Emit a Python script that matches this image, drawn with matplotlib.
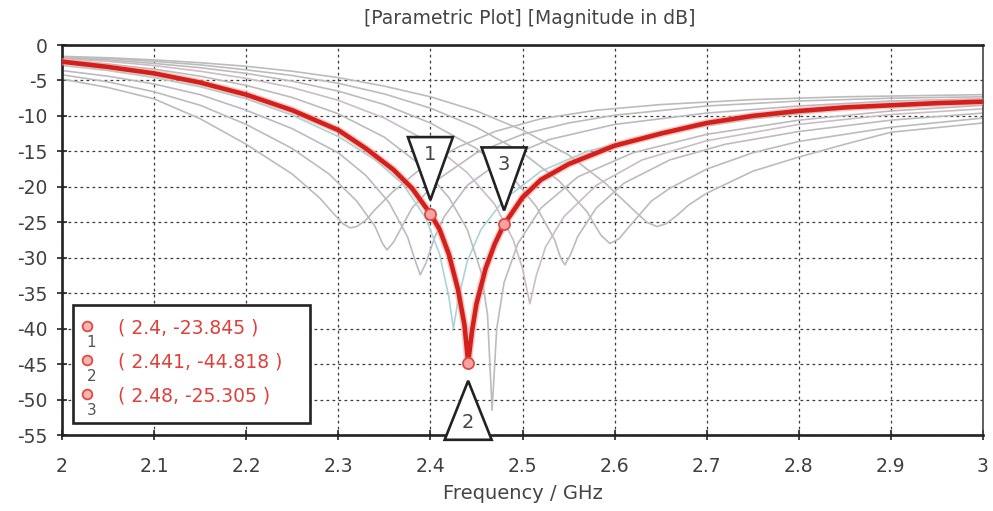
"""Parametric S11 sweep (CST style) with three markers."""

import matplotlib
matplotlib.use("Agg")
import matplotlib.pyplot as plt
from matplotlib.patches import Polygon, Rectangle
from matplotlib.transforms import ScaledTranslation

# ---- data ------------------------------------------------------------------
red_f = [2.00, 2.05, 2.10, 2.15, 2.20, 2.25, 2.30, 2.33, 2.36, 2.38, 2.40, 2.41,
         2.42, 2.43, 2.437, 2.441, 2.445, 2.45, 2.46, 2.47, 2.48, 2.50, 2.52,
         2.55, 2.60, 2.65, 2.70, 2.75, 2.80, 2.85, 2.90, 2.95, 3.00]
red_db = [-2.35, -3.1, -4.0, -5.3, -7.0, -9.2, -12.0, -14.6, -17.6, -20.2, -23.8,
          -26.0, -29.5, -34.5, -39.5, -44.8, -40.5, -36.5, -31.5, -28.0, -25.3,
          -21.5, -19.0, -16.8, -14.2, -12.5, -11.0, -10.0, -9.3, -8.8, -8.5, -8.2, -8.0]

g1_f = [2.00, 2.05, 2.10, 2.15, 2.20, 2.25, 2.28, 2.295, 2.305, 2.313, 2.32, 2.33,
        2.34, 2.36, 2.39, 2.43, 2.47, 2.52, 2.58, 2.65, 2.75, 2.85, 3.00]
g1_db = [-4.8, -6.0, -7.6, -10.4, -14.0, -18.2, -21.6, -23.8, -25.2, -25.8, -25.6,
         -24.7, -23.2, -20.6, -17.4, -14.4, -12.2, -10.4, -9.2, -8.4, -7.7, -7.3, -7.0]

g2_f = [2.00, 2.05, 2.10, 2.15, 2.20, 2.25, 2.29, 2.32, 2.34, 2.348, 2.353, 2.36,
        2.37, 2.38, 2.41, 2.45, 2.50, 2.55, 2.60, 2.70, 2.80, 2.90, 3.00]
g2_db = [-4.2, -5.2, -6.6, -8.5, -11.2, -14.6, -18.2, -22.0, -25.6, -28.0, -28.9,
         -27.8, -25.4, -23.0, -18.8, -15.2, -12.6, -11.0, -9.9, -8.6, -7.9, -7.5, -7.3]

g3_f = [2.00, 2.05, 2.10, 2.15, 2.20, 2.25, 2.30, 2.33, 2.355, 2.375, 2.384, 2.389,
        2.395, 2.405, 2.415, 2.44, 2.48, 2.53, 2.60, 2.70, 2.80, 2.90, 3.00]
g3_db = [-3.6, -4.4, -5.5, -7.0, -9.2, -11.8, -15.2, -18.4, -22.2, -27.0, -30.6,
         -32.4, -30.8, -27.0, -24.2, -19.8, -16.0, -13.3, -11.2, -9.6, -8.6, -7.9, -7.6]

g4_f = [2.00, 2.05, 2.10, 2.15, 2.20, 2.25, 2.30, 2.34, 2.37, 2.395, 2.41, 2.42,
        2.425, 2.43, 2.44, 2.455, 2.48, 2.52, 2.57, 2.65, 2.75, 2.85, 3.00]
g4_db = [-2.9, -3.6, -4.6, -5.9, -7.6, -9.9, -12.9, -16.2, -19.6, -24.4, -29.5,
         -35.5, -40.0, -36.0, -30.5, -26.0, -21.8, -17.8, -15.0, -12.4, -10.4, -9.0, -7.9]

g5_f = [2.00, 2.05, 2.10, 2.15, 2.20, 2.25, 2.30, 2.35, 2.39, 2.42, 2.44, 2.455,
        2.462, 2.467, 2.472, 2.48, 2.495, 2.52, 2.56, 2.62, 2.70, 2.80, 2.90, 3.00]
g5_db = [-2.1, -2.7, -3.4, -4.4, -5.7, -7.4, -9.7, -13.0, -17.0, -21.5, -26.0,
         -32.0, -38.0, -51.5, -40.0, -33.5, -28.0, -23.0, -18.6, -15.2, -12.6,
         -10.6, -9.3, -8.5]

g6_f = [2.00, 2.05, 2.10, 2.15, 2.20, 2.25, 2.30, 2.35, 2.40, 2.44, 2.47, 2.49,
        2.50, 2.508, 2.515, 2.525, 2.545, 2.58, 2.63, 2.70, 2.80, 2.90, 3.00]
g6_db = [-1.9, -2.3, -2.9, -3.7, -4.7, -6.0, -7.8, -10.3, -13.8, -18.0, -22.5,
         -27.5, -31.5, -36.5, -32.5, -28.5, -24.2, -19.8, -16.2, -13.5, -11.2, -9.8, -9.0]

g7_f = [2.00, 2.05, 2.10, 2.15, 2.20, 2.25, 2.30, 2.35, 2.40, 2.45, 2.49, 2.515,
        2.535, 2.541, 2.546, 2.552, 2.56, 2.58, 2.61, 2.66, 2.72, 2.80, 2.90, 3.00]
g7_db = [-1.8, -2.1, -2.6, -3.2, -4.0, -5.1, -6.5, -8.4, -11.0, -14.6, -18.8,
         -22.8, -27.5, -29.9, -31.0, -29.6, -27.0, -23.0, -19.5, -16.2, -14.0,
         -12.2, -10.6, -9.6]

g8_f = [2.00, 2.05, 2.10, 2.15, 2.20, 2.25, 2.30, 2.35, 2.40, 2.45, 2.50, 2.54,
        2.57, 2.585, 2.595, 2.605, 2.62, 2.64, 2.66, 2.70, 2.75, 2.80, 2.90, 3.00]
g8_db = [-1.7, -1.9, -2.3, -2.8, -3.5, -4.3, -5.4, -6.9, -8.9, -11.6, -15.2,
         -19.2, -23.5, -26.8, -28.0, -27.3, -25.0, -22.0, -20.2, -17.5, -15.2,
         -13.6, -11.6, -10.3]

g9_f = [2.00, 2.05, 2.10, 2.15, 2.20, 2.25, 2.30, 2.35, 2.40, 2.45, 2.50, 2.55,
        2.59, 2.62, 2.635, 2.646, 2.656, 2.668, 2.68, 2.70, 2.75, 2.80, 2.85, 2.90, 3.00]
g9_db = [-1.6, -1.8, -2.1, -2.5, -3.0, -3.7, -4.6, -5.8, -7.3, -9.3, -12.0, -15.5,
         -19.5, -23.2, -25.0, -25.6, -25.2, -24.0, -22.6, -20.9, -17.8, -15.8,
         -14.0, -12.3, -11.0]

marker_ids = ["1", "2", "3"]
marker_f = [2.4, 2.441, 2.48]
marker_db = [-23.845, -44.818, -25.305]

x_ticks = [2, 2.1, 2.2, 2.3, 2.4, 2.5, 2.6, 2.7, 2.8, 2.9, 3]
y_ticks = [0, -5, -10, -15, -20, -25, -30, -35, -40, -45, -50, -55]

INK = "#333333"
RED = "#d3201b"
GRAY = "#bcbcbc"


def triangle(ax, fig, x, y, label, above):
    """CST style marker flag: a tall triangle pointing at the marker."""
    trans = fig.dpi_scale_trans + ScaledTranslation(x, y, ax.transData)
    if above:
        verts = [(0, 0.14), (-0.225, 0.77), (0.225, 0.77)]
        ty = 0.60
    else:
        verts = [(0, -0.18), (-0.235, -0.77), (0.235, -0.77)]
        ty = -0.595
    ax.add_patch(Polygon(verts, closed=True, transform=trans, facecolor="white",
                         edgecolor="#222222", linewidth=1.9, zorder=6, clip_on=False))
    ax.text(0, ty, label, transform=trans, ha="center", va="center",
            fontsize=14, color="#444444", zorder=7)


fig = plt.figure(figsize=(9.93, 5.11), dpi=100)
ax = fig.add_axes([62 / 993, 76 / 511, 921 / 993, 390 / 511])

sweeps = [(g1_f, g1_db, GRAY), (g2_f, g2_db, GRAY), (g3_f, g3_db, "#bdb8c8"),
          (g4_f, g4_db, "#acd3d5"), (g5_f, g5_db, GRAY), (g6_f, g6_db, "#cdbcc6"),
          (g7_f, g7_db, GRAY), (g8_f, g8_db, GRAY), (g9_f, g9_db, GRAY)]
for f, db, c in sweeps:
    ax.plot(f, db, color=c, linewidth=1.2, zorder=2)

ax.plot(red_f, red_db, color="#f2a8a4", linewidth=5.5, zorder=3, alpha=0.6)
ax.plot(red_f, red_db, color=RED, linewidth=3.3, zorder=4)
ax.plot(marker_f, marker_db, linestyle="none", marker="o", markersize=8,
        markerfacecolor="#f5a3a0", markeredgecolor="#e04a44", markeredgewidth=1.3, zorder=5)

for mid, f, db in zip(marker_ids, marker_f, marker_db):
    triangle(ax, fig, f, db, mid, above=(mid != "2"))

# marker readout box
ax.add_patch(Rectangle((2.012, -53.3), 0.257, 16.6, facecolor="white",
                       edgecolor="#222222", linewidth=1.9, zorder=6))
for i, (mid, f, db) in enumerate(zip(marker_ids, marker_f, marker_db)):
    yy = -39.9 - 4.8 * i
    ax.plot([2.027], [yy + 0.3], marker="o", markersize=7, markerfacecolor="#f7b5b2",
            markeredgecolor="#e04a44", markeredgewidth=1.3, zorder=7)
    ax.text(2.032, yy - 2.0, mid, fontsize=11, color="#555555", ha="center",
            va="center", zorder=7)
    ax.text(2.061, yy, f"( {f:g}, {db:.3f} )", fontsize=13.5, color="#e0403a",
            ha="left", va="center", zorder=7)

ax.set_xlim(2, 3)
ax.set_ylim(-55, 0)
ax.set_xticks(x_ticks)
ax.set_xticklabels([f"{v:g}" for v in x_ticks])
ax.set_yticks(y_ticks)
ax.set_yticklabels([f"{v:g}" for v in y_ticks])
ax.grid(True, color="#3c3c3c", linestyle=(0, (2.2, 2.6)), linewidth=0.9, zorder=1)
ax.set_axisbelow(True)
ax.tick_params(direction="inout", length=7, width=1.3, colors=INK,
               labelsize=13.5, labelcolor="#404040")
ax.tick_params(axis="x", pad=12)
ax.tick_params(axis="y", pad=7)
for side in ["left", "bottom", "top"]:
    ax.spines[side].set_linewidth(1.9)
    ax.spines[side].set_color("#222222")
ax.spines["right"].set_linewidth(1.2)
ax.spines["right"].set_color("#444444")

ax.set_xlabel("Frequency / GHz", fontsize=14, color="#444444", labelpad=6)
fig.text(530 / 993, 1 - 18 / 511, "[Parametric Plot] [Magnitude in dB]",
         ha="center", va="center", fontsize=13.5, color="#444444")

fig.savefig("out.png", dpi=100)
